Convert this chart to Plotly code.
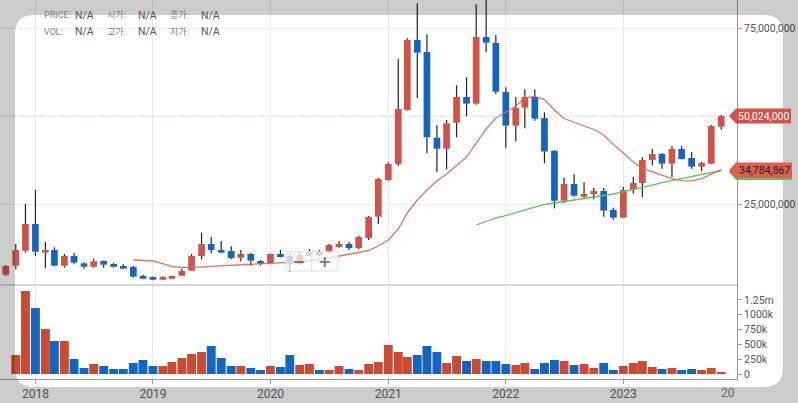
import plotly.graph_objects as go
import pandas as pd

# ---------------- data (values in millions for price, thousands for volume) ----------------
months = pd.date_range("2017-10-01", periods=74, freq="MS")

open_m = [4.90, 7.46, 11.73, 19.32, 11.16, 11.92, 7.46, 10.22, 8.14, 7.17,
          8.79, 7.94, 7.37, 7.09, 4.52, 4.24, 3.47, 3.76, 4.61, 6.03,
          10.22, 13.63, 11.92, 11.64, 9.73, 10.79, 8.79, 8.23, 10.79, 10.22,
          7.86, 10.22, 11.35, 11.07, 12.78, 13.63, 12.49, 15.34, 21.40, 31.84,
          36.40, 51.77, 71.68, 68.27, 43.88, 40.75, 48.15, 55.47, 53.56, 72.54,
          70.83, 56.89, 47.30, 52.42, 55.47, 49.49, 40.18, 25.95, 30.71, 27.09,
          27.86, 28.71, 23.31, 21.12, 29.00, 30.99, 37.54, 39.24, 36.48, 40.67,
          38.11, 35.63, 36.48, 47.01]
close_m = [7.37, 11.92, 19.32, 11.44, 11.92, 7.46, 10.22, 8.31, 7.17, 8.71,
           7.74, 7.17, 6.60, 4.33, 3.76, 3.47, 4.24, 4.52, 5.95, 10.22,
           13.63, 11.92, 11.16, 9.65, 10.79, 8.88, 8.02, 10.79, 9.93, 7.86,
           10.50, 11.35, 10.50, 13.35, 13.63, 12.49, 15.62, 21.31, 32.13, 36.40,
           52.05, 71.68, 68.07, 44.00, 40.75, 47.98, 55.47, 53.56, 72.54, 70.92,
           56.97, 47.30, 52.33, 55.47, 49.29, 39.96, 25.95, 30.71, 27.38, 27.86,
           28.71, 23.11, 21.12, 29.00, 30.99, 37.54, 39.24, 36.48, 40.67, 37.82,
           35.63, 36.68, 47.21, 50.024]
high_m = [7.6, 13.63, 25.02, 29.0, 14.20, 12.69, 10.79, 11.07, 8.51, 9.45,
          8.95, 8.23, 7.86, 7.37, 4.90, 4.4, 4.45, 4.7, 6.60, 10.79,
          16.85, 15.62, 14.48, 12.98, 11.92, 11.07, 9.08, 10.9, 11.92, 11.07,
          11.35, 12.21, 11.92, 13.63, 14.48, 14.20, 15.91, 21.60, 32.50, 36.9,
          66.19, 72.17, 82.13, 73.31, 47.41, 48.92, 58.80, 61.07, 81.85, 84.5,
          73.11, 58.23, 55.47, 57.66, 57.66, 51.11, 40.4, 32.42, 33.47, 31.19,
          29.65, 29.65, 23.96, 29.85, 32.70, 38.30, 40.67, 39.53, 41.52, 41.52,
          39.81, 36.97, 47.50, 50.34]
low_m = [4.53, 6.43, 11.16, 10.30, 6.72, 7.3, 6.89, 7.86, 6.60, 6.89,
         6.89, 6.89, 6.5, 4.04, 3.59, 3.3, 3.3, 3.6, 4.5, 6.0,
         9.28, 10.98, 11.0, 9.28, 8.71, 7.46, 7.46, 7.86, 9.8, 5.66,
         7.7, 10.1, 10.22, 10.9, 12.6, 11.92, 12.21, 14.77, 19.32, 31.6,
         35.91, 51.6, 55.10, 39.44, 34.04, 34.89, 44.00, 49.97, 53.27, 68.19,
         56.23, 40.95, 42.86, 46.56, 48.72, 36.60, 23.74, 25.21, 27.09, 26.35,
         26.35, 21.40, 20.55, 21.0, 27.95, 26.92, 36.03, 35.06, 32.70, 37.7,
         35.06, 34.32, 36.3, 46.16]
volume_k = [0, 321, 1402, 1115, 760, 557, 557, 253, 101, 169,
            135, 84, 84, 186, 236, 135, 135, 203, 270, 338,
            372, 473, 270, 135, 135, 101, 68, 135, 118, 321,
            152, 169, 68, 68, 135, 84, 68, 169, 203, 490,
            372, 287, 321, 473, 372, 186, 304, 220, 253, 220,
            220, 169, 152, 186, 84, 186, 236, 220, 152, 169,
            101, 186, 68, 135, 186, 220, 118, 84, 101, 68,
            84, 68, 101, 34]
ma_red_m = [None] * 13 + [
    9.08, 9.00, 8.79, 8.08, 7.23, 7.00, 7.00, 7.09, 7.29, 7.43,
    7.54, 7.66, 7.80, 7.88, 8.03, 8.17, 8.31, 8.57, 8.88, 9.19,
    9.65, 10.22, 10.64, 11.21, 11.78, 13.06, 14.77, 17.90, 22.46, 26.15,
    29.00, 31.56, 33.55, 36.11, 38.39, 42.37, 46.36, 49.49, 51.20, 52.90,
    55.18, 55.61, 54.75, 51.77, 49.35, 48.35, 47.36, 46.22, 44.65, 41.95,
    39.53, 36.97, 35.12, 34.12, 33.13, 32.27, 31.65, 31.62, 32.27, 33.41,
    34.784867]
ma_green_m = [None] * 48 + [
    19.04, 20.04, 21.03, 21.74, 22.60, 23.45, 24.16, 24.87, 25.39, 25.73,
    26.15, 26.58, 27.01, 27.43, 27.86, 28.57, 29.14, 29.71, 30.42, 31.13,
    31.70, 32.27, 32.84, 33.41, 33.98, 34.55]

year_ticks = ["2018", "2019", "2020", "2021", "2022", "2023"]
price_ticks = [25e6, 50e6, 75e6]
price_tick_text = ["25,000,000", "", "75,000,000"]
vol_ticks = [0, 250e3, 500e3, 750e3, 1000e3, 1250e3]
vol_tick_text = ["0", "250k", "500k", "750k", "1000k", "1.25m"]
header_rows = [[("PRICE:", "N/A"), ("시가:", "N/A"), ("종가:", "N/A")],
               [("VOL:", "N/A"), ("고가:", "N/A"), ("저가:", "N/A")]]

# ---------------- derived ----------------
M = 1e6
o = [v * M for v in open_m]
c = [v * M for v in close_m]
h = [v * M for v in high_m]
l = [v * M for v in low_m]
vol = [v * 1e3 for v in volume_k]
ma_red = [None if v is None else v * M for v in ma_red_m]
ma_green = [None if v is None else v * M for v in ma_green_m]
up = [ci >= oi for oi, ci in zip(o, c)]

RED = "#d05248"
BLUE = "#1565c0"
VRED = "#c94b33"
DAY = 86400000

PLOT_W, PLOT_H = 737, 379
def px(x):
    return x / PLOT_W
def py(y):
    return 1 - y / PLOT_H

fig = go.Figure()

# volume bars
fig.add_trace(go.Bar(x=months, y=vol, yaxis="y2",
                     marker=dict(color=[VRED if u else BLUE for u in up], line=dict(width=0)),
                     width=27.6 * DAY, hoverinfo="skip"))

# candle bodies
for flag, col in ((True, RED), (False, BLUE)):
    xs = [m for m, u in zip(months, up) if u == flag]
    base = [min(oi, ci) for oi, ci, u in zip(o, c, up) if u == flag]
    hgt = [max(abs(ci - oi), 0.35 * M) for oi, ci, u in zip(o, c, up) if u == flag]
    fig.add_trace(go.Bar(x=xs, y=hgt, base=base, yaxis="y",
                         marker=dict(color=col, line=dict(width=0)),
                         width=20.8 * DAY, hoverinfo="skip"))

# wicks (split above/below body)
wx, wy = [], []
for m, oi, ci, hi, lo in zip(months, o, c, h, l):
    top, bot = max(oi, ci), min(oi, ci)
    if hi > top:
        wx += [m, m, None]; wy += [top, hi, None]
    if lo < bot:
        wx += [m, m, None]; wy += [lo, bot, None]
fig.add_trace(go.Scatter(x=wx, y=wy, mode="lines", yaxis="y",
                         line=dict(color="#222222", width=1.2), hoverinfo="skip"))

# moving averages
fig.add_trace(go.Scatter(x=months, y=ma_green, mode="lines", yaxis="y",
                         line=dict(color="#5cc651", width=1.3), hoverinfo="skip"))
fig.add_trace(go.Scatter(x=months, y=ma_red, mode="lines", yaxis="y",
                         line=dict(color="rgba(228,100,88,0.9)", width=1.3), hoverinfo="skip"))

shapes = []
annotations = []

def note(text, x, y, size, color, family="Roboto", xanchor="center"):
    annotations.append(dict(text=text, xref="paper", yref="paper", x=px(x), y=py(y),
                            xanchor=xanchor, yanchor="middle", showarrow=False,
                            font=dict(size=size, color=color, family=family)))

# last price dashed line
shapes.append(dict(type="line", xref="paper", yref="y", x0=0, x1=1,
                   y0=c[-1], y1=c[-1], layer="below",
                   line=dict(color="rgba(220,110,100,0.35)", width=1, dash="6px,4px")))
# panel separator
shapes.append(dict(type="line", xref="paper", yref="paper", x0=0, x1=1,
                   y0=py(285), y1=py(285), layer="above",
                   line=dict(color="#d6d6d6", width=2)))

# zoom control box
shapes.append(dict(type="rect", xref="paper", yref="paper",
                   x0=px(286), x1=px(337.7), y0=py(271), y1=py(251.7), layer="above",
                   fillcolor="rgba(255,255,255,0.72)", line=dict(color="#dddddd", width=1)))
shapes.append(dict(type="line", xref="paper", yref="paper",
                   x0=px(311.7), x1=px(311.7), y0=py(271), y1=py(251.7), layer="above",
                   line=dict(color="#dddddd", width=1)))
note("<b>−</b>", 298.5, 261.5, 16, "#7a7a7a", "DejaVu Sans")
note("<b>+</b>", 324.5, 261.5, 16, "#7a7a7a", "DejaVu Sans")

# grey overlay frame with rounded white window
def P(x, y):
    return "%.5f,%.5f" % (px(x), py(y))
r = 19
L_, T_, R_, B_ = 15, 15, 783, 387
path = ("M %s L %s L %s L %s Z " % (P(-5, -5), P(805, -5), P(805, 410), P(-5, 410)) +
        "M %s L %s Q %s %s L %s Q %s %s L %s Q %s %s L %s Q %s %s Z" % (
            P(L_ + r, T_), P(R_ - r, T_), P(R_, T_), P(R_, T_ + r),
            P(R_, B_ - r), P(R_, B_), P(R_ - r, B_),
            P(L_ + r, B_), P(L_, B_), P(L_, B_ - r),
            P(L_, T_ + r), P(L_, T_), P(L_ + r, T_)))
shapes.append(dict(type="path", path=path, xref="paper", yref="paper", layer="above",
                   fillcolor="rgba(0,0,0,0.2)", fillrule="evenodd", line=dict(width=0)))

# price tags
def tag(color, y_top, y_bot, x_right):
    mid = (y_top + y_bot) / 2
    return dict(type="path", xref="paper", yref="paper", layer="above",
                path="M %s L %s L %s L %s L %s Z" % (P(729, mid), P(736, y_top), P(x_right, y_top),
                                                     P(x_right, y_bot), P(736, y_bot)),
                fillcolor=color, line=dict(width=0))

shapes.append(tag("#5cc651", 165, 180, 792))
shapes.append(tag("#db5f53", 162.5, 178, 792))
shapes.append(tag(RED, 108.5, 123.5, 791))
note(f"{c[-1]:,.0f}", 763.5, 116.3, 10.5, "white")
note(f"{ma_red[-1]:,.0f}", 764, 170.5, 10.5, "#222222")

# clipped 2024 label
note("20", 737, 393, 12, "#666666", xanchor="right")

# header legend
for row, yy in zip(header_rows, (15, 32)):
    for k, (lab, val) in enumerate(row):
        x0 = 42 + k * 63
        note(lab, x0, yy, 9, "#808080", "Roboto, 'Noto Sans CJK KR'", xanchor="left")
        note(val, x0 + 31, yy, 10.5, "#555555", xanchor="left")

fig.update_layout(
    width=798, height=403,
    margin=dict(l=0, r=61, t=0, b=24),
    paper_bgcolor="white", plot_bgcolor="white",
    showlegend=False, barmode="overlay", hovermode=False,
    font=dict(family="Roboto", color="#555555"),
    xaxis=dict(type="date", range=["2017-09-13", "2023-12-20"], anchor="y2",
               tickvals=[pd.Timestamp(y + "-01-01") for y in year_ticks], ticktext=year_ticks,
               showgrid=True, gridcolor="#ebebeb", gridwidth=1,
               ticks="outside", ticklen=4, tickcolor="#999999",
               showline=True, linecolor="#999999", linewidth=1,
               tickfont=dict(size=12, color="#666666"), zeroline=False),
    yaxis=dict(domain=[py(285), 1], range=[1.964e6, 83.07e6], side="right", anchor="x",
               tickvals=price_ticks, ticktext=price_tick_text,
               showgrid=True, gridcolor="#ebebeb", zeroline=False,
               ticks="outside", ticklen=4, tickcolor="#999999",
               showline=True, linecolor="#999999", linewidth=1,
               tickfont=dict(size=10.5, color="#555555")),
    yaxis2=dict(domain=[0, py(285)], range=[-84.5e3, 1503e3], side="right", anchor="x",
                tickvals=vol_ticks, ticktext=vol_tick_text,
                showgrid=False, zeroline=False,
                ticks="outside", ticklen=4, tickcolor="#999999",
                showline=True, linecolor="#999999", linewidth=1,
                tickfont=dict(size=10.5, color="#555555")),
    shapes=shapes, annotations=annotations,
)

fig.write_html("out.html", config={"displayModeBar": False},
               post_script="document.body.style.margin='0';document.body.style.overflow='hidden';")
